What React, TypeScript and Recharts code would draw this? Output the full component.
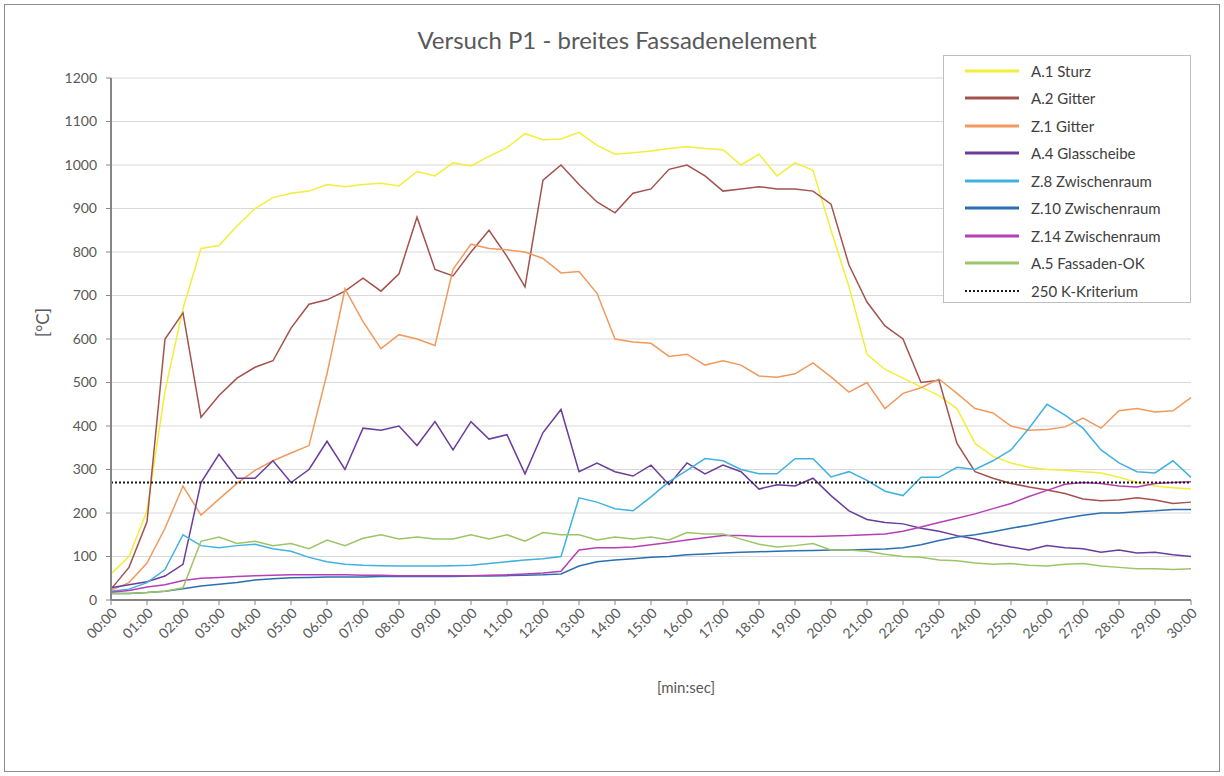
import React from "react";
import { LineChart, Line, XAxis, YAxis, CartesianGrid, Legend } from "recharts";

// time in minutes, one sample every 30 s
const TIME = [
  0, 0.5, 1, 1.5, 2, 2.5, 3, 3.5, 4, 4.5,
  5, 5.5, 6, 6.5, 7, 7.5, 8, 8.5, 9, 9.5,
  10, 10.5, 11, 11.5, 12, 12.5, 13, 13.5, 14, 14.5,
  15, 15.5, 16, 16.5, 17, 17.5, 18, 18.5, 19, 19.5,
  20, 20.5, 21, 21.5, 22, 22.5, 23, 23.5, 24, 24.5,
  25, 25.5, 26, 26.5, 27, 27.5, 28, 28.5, 29, 29.5,
  30,
];

const MINUTES = [0, 1, 2, 3, 4, 5, 6, 7, 8, 9, 10, 11, 12, 13, 14, 15, 16, 17, 18, 19, 20, 21, 22, 23, 24, 25, 26, 27, 28, 29, 30];
const MINUTE_LABELS = [
  "00:00", "01:00", "02:00", "03:00", "04:00", "05:00", "06:00", "07:00", "08:00", "09:00",
  "10:00", "11:00", "12:00", "13:00", "14:00", "15:00", "16:00", "17:00", "18:00", "19:00",
  "20:00", "21:00", "22:00", "23:00", "24:00", "25:00", "26:00", "27:00", "28:00", "29:00",
  "30:00",
];
const Y_TICKS = [0, 100, 200, 300, 400, 500, 600, 700, 800, 900, 1000, 1100, 1200];
const KRITERIUM = 270;

const A1_STURZ = [
  60, 100, 205, 480, 670, 808, 815, 860, 900, 925,
  935, 940, 955, 950, 955, 958, 952, 985, 975, 1005,
  998, 1020, 1040, 1072, 1058, 1060, 1075, 1045, 1025, 1028,
  1032, 1038, 1042, 1038, 1035, 1000, 1025, 975, 1005, 988,
  850, 720, 565, 530, 510, 490, 470, 440, 360, 330,
  315, 305, 300, 298, 295, 292, 282, 270, 262, 258,
  255,
];
const A2_GITTER = [
  25, 75, 180, 600, 660, 420, 470, 510, 535, 550,
  625, 680, 690, 710, 740, 710, 750, 880, 760, 745,
  800, 850, 790, 720, 965, 1000, 955, 915, 890, 935,
  945, 990, 1000, 975, 940, 945, 950, 945, 945, 940,
  910, 770, 685, 630, 600, 500, 505, 360, 295, 280,
  268, 260, 253, 245, 232, 228, 230, 235, 230, 222,
  225,
];
const Z1_GITTER = [
  22, 40, 85, 165, 262, 195, 232, 268, 298, 320,
  338, 355, 520, 715, 640, 578, 610, 600, 585, 760,
  818, 808, 805, 800, 785, 752, 755, 705, 600, 593,
  590, 560, 565, 540, 550, 540, 515, 512, 520, 545,
  513, 478, 500, 440, 475, 488, 508, 475, 440, 430,
  400, 390, 392, 398, 418, 395, 435, 440, 432, 435,
  465,
];
const A4_GLASSCHEIBE = [
  28, 35, 42, 55, 82, 270, 335, 280, 280, 320,
  270, 300, 365, 300, 395, 390, 400, 355, 410, 345,
  410, 370, 380, 290, 385, 438, 295, 315, 295, 285,
  310, 265, 315, 290, 310, 295, 255, 265, 262, 280,
  240, 205, 185, 178, 175, 165, 158, 148, 140, 130,
  122, 115, 125, 120, 118, 110, 115, 108, 110, 104,
  100,
];
const Z8_ZWISCHENRAUM = [
  20, 25, 40, 70, 150, 125, 120, 125, 128, 118,
  112, 98, 88, 82, 80, 79, 78, 78, 78, 79,
  80, 84, 88, 92, 95, 100, 235, 225, 210, 205,
  237, 272, 298, 325, 320, 300, 290, 290, 325, 325,
  283, 295, 275, 250, 240, 282, 282, 305, 300, 320,
  345, 395, 450, 425, 395, 345, 315, 295, 292, 320,
  282,
];
const Z10_ZWISCHENRAUM = [
  15, 15, 17, 20, 26, 32, 36, 40, 46, 49,
  51, 52, 53, 53, 53, 54, 54, 54, 54, 54,
  55, 55, 56, 57, 58, 60, 78, 88, 92, 95,
  98, 100, 104, 106, 108, 110, 111, 112, 113, 114,
  115, 115, 116, 117, 120, 127, 137, 145, 150, 157,
  165, 172, 180, 188, 195, 200, 200, 203, 205, 208,
  208,
];
const Z14_ZWISCHENRAUM = [
  18, 22, 30, 35, 45, 50, 52, 54, 56, 57,
  58, 58, 58, 58, 57, 57, 56, 56, 56, 56,
  56, 57, 58, 60, 62, 66, 115, 120, 120, 122,
  127, 132, 138, 143, 148, 148, 146, 146, 146, 146,
  147, 148, 150, 152, 158, 168, 178, 188, 198, 210,
  222, 238, 252, 266, 270, 268, 262, 260, 268, 270,
  272,
];
const A5_FASSADEN_OK = [
  15, 15, 17, 20, 28, 135, 145, 130, 135, 125,
  130, 118, 138, 125, 142, 150, 140, 145, 140, 140,
  150, 140, 150, 135, 155, 150, 150, 138, 145, 140,
  145, 138, 155, 152, 152, 140, 128, 122, 125, 130,
  115, 115, 112, 105, 100, 98, 92, 90, 85, 82,
  84, 80, 78, 82, 84, 78, 75, 72, 72, 70,
  72,
];

const SERIES = [
  { key: "a1", name: "A.1 Sturz", color: "#f2ee3a", values: A1_STURZ },
  { key: "a2", name: "A.2 Gitter", color: "#a3524e", values: A2_GITTER },
  { key: "z1", name: "Z.1 Gitter", color: "#f09a5e", values: Z1_GITTER },
  { key: "a4", name: "A.4 Glasscheibe", color: "#6a3d9a", values: A4_GLASSCHEIBE },
  { key: "z8", name: "Z.8 Zwischenraum", color: "#41b2df", values: Z8_ZWISCHENRAUM },
  { key: "z10", name: "Z.10 Zwischenraum", color: "#2c6fb0", values: Z10_ZWISCHENRAUM },
  { key: "z14", name: "Z.14 Zwischenraum", color: "#b63fb6", values: Z14_ZWISCHENRAUM },
  { key: "a5", name: "A.5 Fassaden-OK", color: "#9cc567", values: A5_FASSADEN_OK },
];
const KRIT_NAME = "250 K-Kriterium";

const rows = TIME.map((t, i) => {
  const row: Record<string, number> = { t, krit: KRITERIUM };
  SERIES.forEach((s) => {
    row[s.key] = s.values[i];
  });
  return row;
});

const FONT = "Lato, 'Open Sans', sans-serif";
const TEXT = "#595959";

// legend drawn in series order (recharts would sort by name)
function LegendBox() {
  const items = [
    ...SERIES.map((s) => ({ name: s.name, color: s.color, dotted: false })),
    { name: KRIT_NAME, color: "#1a1a1a", dotted: true },
  ];
  return (
    <div
      style={{
        width: 248,
        height: 248,
        boxSizing: "border-box",
        border: "1px solid #bfbfbf",
        background: "#fff",
        paddingTop: 1,
      }}
    >
      {items.map((it) => (
        <div key={it.name} style={{ display: "flex", alignItems: "center", height: 27.5 }}>
          <svg width={54} height={8} style={{ marginLeft: 21, marginRight: 12 }}>
            <line
              x1={0}
              y1={4}
              x2={54}
              y2={4}
              stroke={it.color}
              strokeWidth={it.dotted ? 2 : 3}
              strokeDasharray={it.dotted ? "2 2" : undefined}
            />
          </svg>
          <span style={{ fontSize: 15, color: "#404040" }}>{it.name}</span>
        </div>
      ))}
    </div>
  );
}

export default function App() {
  return (
    <div
      style={{
        position: "absolute",
        left: 0,
        top: 0,
        width: 1224,
        height: 776,
        background: "#fff",
        fontFamily: FONT,
      }}
    >
      <div
        style={{
          position: "absolute",
          left: 4,
          top: 4,
          width: 1214,
          height: 766,
          border: "1px solid #8c8c8c",
        }}
      />
      <div
        style={{
          position: "absolute",
          left: 10,
          top: 25,
          width: 1214,
          textAlign: "center",
          fontSize: 24,
          color: TEXT,
        }}
      >
        Versuch P1 - breites Fassadenelement
      </div>
      <div
        style={{
          position: "absolute",
          left: 636,
          top: 678,
          width: 100,
          textAlign: "center",
          fontSize: 15,
          color: TEXT,
        }}
      >
        [min:sec]
      </div>
      <div
        style={{
          position: "absolute",
          left: 12,
          top: 312,
          width: 60,
          textAlign: "center",
          fontSize: 17,
          color: TEXT,
          transform: "rotate(-90deg)",
        }}
      >
        [°C]
      </div>
      <LineChart
        width={1224}
        height={776}
        data={rows}
        margin={{ top: 78, right: 33, bottom: 66, left: 0 }}
      >
        <CartesianGrid vertical={false} stroke="#d9d9d9" />
        <XAxis
          dataKey="t"
          type="number"
          domain={[0, 30]}
          ticks={MINUTES}
          interval={0}
          height={110}
          tickFormatter={(v: number) => MINUTE_LABELS[MINUTES.indexOf(v)] ?? ""}
          angle={-45}
          textAnchor="end"
          tick={{ fill: TEXT, fontSize: 14 }}
          axisLine={{ stroke: "#868686", strokeWidth: 2 }}
          tickLine={{ stroke: "#868686" }}
          tickSize={5}
        />
        <YAxis
          domain={[0, 1200]}
          ticks={Y_TICKS}
          interval={0}
          width={111}
          tick={{ fill: TEXT, fontSize: 14 }}
          axisLine={{ stroke: "#868686", strokeWidth: 2 }}
          tickLine={{ stroke: "#868686" }}
          tickSize={5}
          tickMargin={9}
        />
        <Legend
          layout="vertical"
          align="center"
          verticalAlign="middle"
          content={() => <LegendBox />}
          wrapperStyle={{ left: 943, top: 55, width: 248, height: 248 }}
        />
        {SERIES.map((s) => (
          <Line
            key={s.key}
            dataKey={s.key}
            name={s.name}
            stroke={s.color}
            strokeWidth={1.5}
            dot={false}
            type="linear"
            legendType="plainline"
            isAnimationActive={false}
          />
        ))}
        <Line
          dataKey="krit"
          name={KRIT_NAME}
          stroke="#1a1a1a"
          strokeWidth={2}
          strokeDasharray="2 2"
          dot={false}
          legendType="plainline"
          isAnimationActive={false}
        />
      </LineChart>
    </div>
  );
}
